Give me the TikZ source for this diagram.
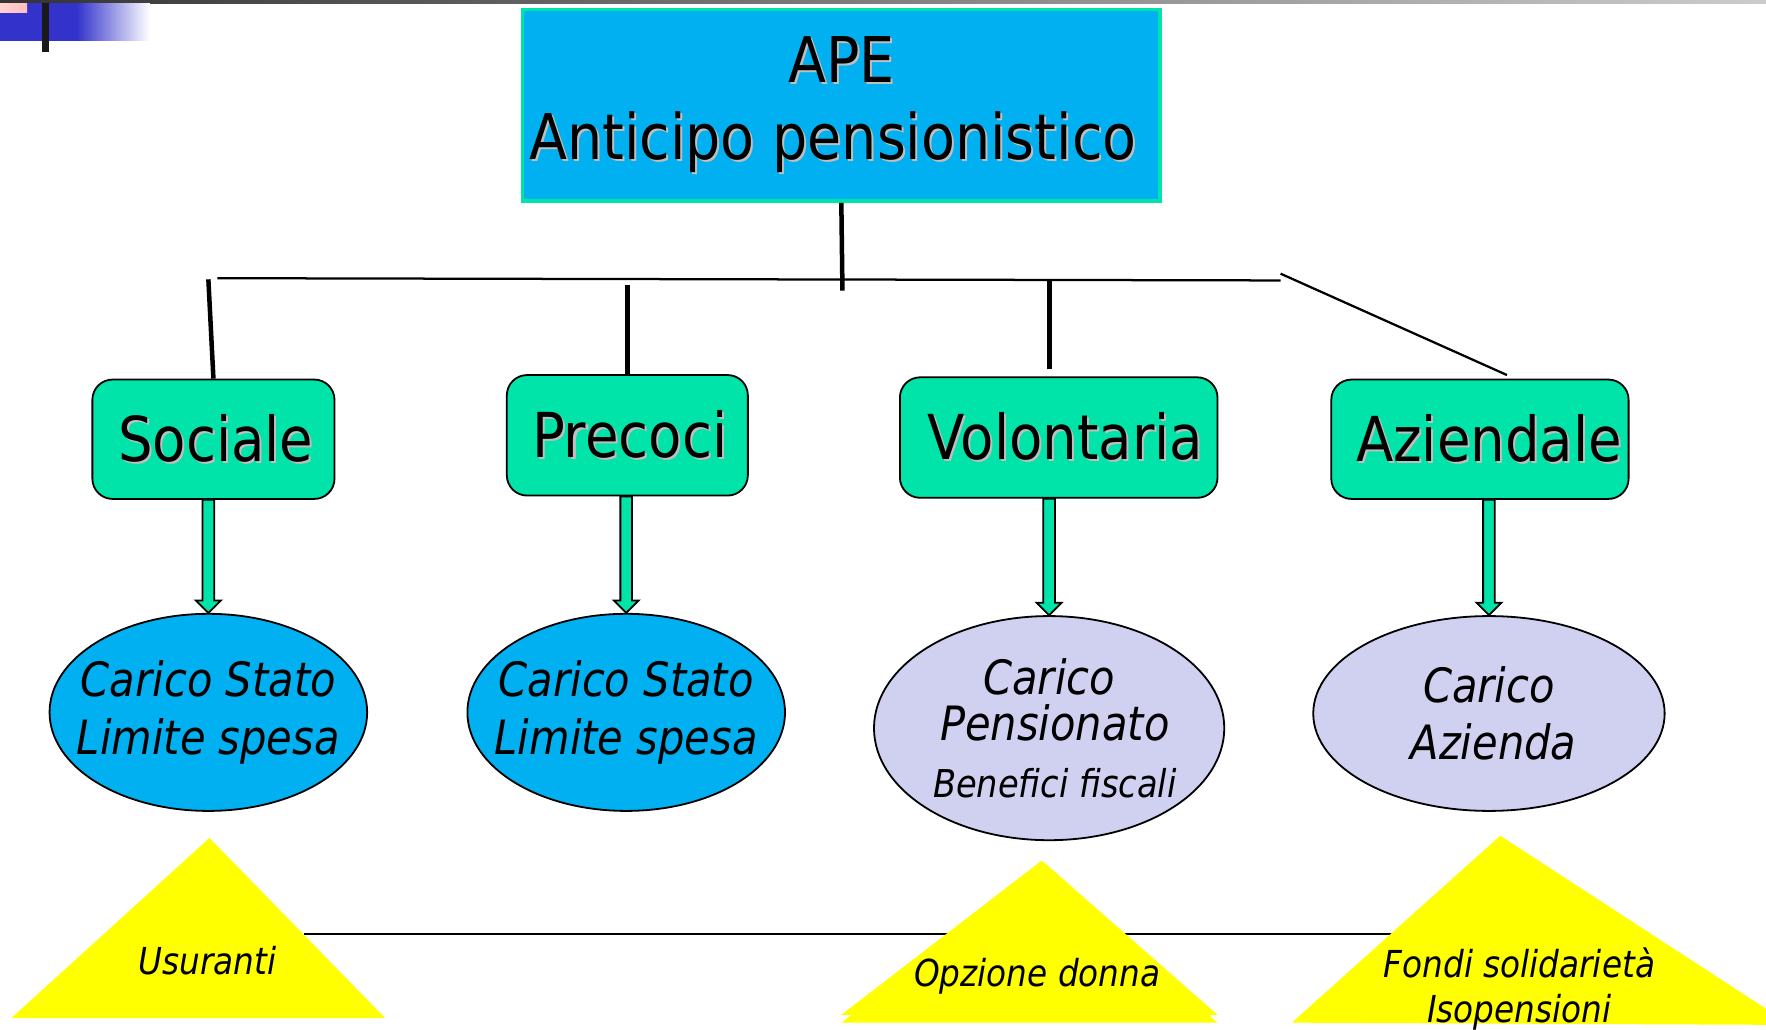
\documentclass[tikz,border=0pt]{standalone}
\usepackage{fontspec}
\setmainfont{DejaVu Sans}[FakeStretch=0.88]
\usetikzlibrary{shapes.geometric,calc}
\definecolor{apeblue}{RGB}{0,176,240}
\definecolor{tealbox}{RGB}{0,227,169}
\definecolor{lav}{RGB}{208,208,240}
\definecolor{topblue}{RGB}{51,51,204}
\definecolor{pinkish}{RGB}{255,190,190}
\definecolor{yel}{RGB}{255,255,0}
\newcommand\shtext[1]{\leavevmode\rlap{\kern0.9pt\raisebox{-0.9pt}{\textcolor{black!25}{#1}}}#1}
\newcommand\zl[1]{\makebox[0pt]{#1}}
\tikzset{
 catbox/.style={draw=black, line width=0.8pt, fill=tealbox, rounded corners=9pt, inner sep=0pt, font=\fontsize{27.5}{30}\selectfont},
 oval/.style={ellipse, draw=black, line width=0.8pt, inner sep=0pt, align=center, font=\fontsize{21}{25.5}\selectfont\itshape},
 link/.style={line width=2pt},
 barline/.style={line width=1pt},
 blockarrow/.style={draw=black, fill=tealbox, line width=0.8pt, line join=miter,
   to path={let \p1=(\tikztostart), \p2=(\tikztotarget) in
   (\x2-2.6pt,\y1) -- (\x2-2.6pt,\y2+5.5pt) -- (\x2-5.5pt,\y2+5.5pt) -- (\x2,\y2) -- (\x2+5.5pt,\y2+5.5pt) -- (\x2+2.6pt,\y2+5.5pt) -- (\x2+2.6pt,\y1) -- cycle}},
 trilabel/.style={font=\fontsize{16.5}{20}\selectfont\itshape, align=center, inner sep=0pt}
}
\begin{document}
\begin{tikzpicture}[x=0.5pt,y=-0.5pt]
\useasboundingbox (0,0) rectangle (1568,914);
\clip (0,0) rectangle (1568,914);
% top decoration
\shade[left color=black!80, right color=black!20] (0,0) rectangle (1568,2.7);
\fill[topblue] (0,2.7) rectangle (68,36);
\shade[left color=topblue, right color=white] (68,2.7) rectangle (133,36);
\shade[left color=pinkish!70, right color=pinkish] (0,2.7) rectangle (24,11.5);
\fill[black!90] (37.3,2.7) rectangle (43.5,46);

% title box
\node[draw=tealbox, line width=1.6pt, fill=apeblue, minimum width=283pt, minimum height=85pt, inner sep=0pt,
  align=center, font=\fontsize{28}{34}\selectfont] (ape) at (747,93.5)
  {\shtext{APE}\\\shtext{Anticipo pensionistico}\hspace*{7.5pt}};

% category boxes
\node[catbox, minimum width=107.5pt, minimum height=53pt] (sociale) at (189.5,390) {\hspace*{2pt}\shtext{Sociale}};
\node[catbox, minimum width=107pt, minimum height=53.5pt] (precoci) at (557,386.5) {\hspace*{2pt}\shtext{Precoci}};
\node[catbox, minimum width=141pt, minimum height=53.5pt] (volontaria) at (940,388.5) {\hspace*{6pt}\shtext{Volontaria}};
\node[catbox, minimum width=132pt, minimum height=53pt] (aziendale) at (1314,390) {\hspace*{8pt}\shtext{Aziendale}};

% tree connectors
\coordinate (apebar) at (748,258);
\coordinate (barL) at (193,247);
\coordinate (barR) at (1137,249);
\coordinate (socTop) at (185,248);
\coordinate (preTop) at (557,253);
\coordinate (volTop) at (932,249);
\coordinate (volEnd) at (932,328);
\coordinate (slantTop) at (1137,243);
\coordinate (slantEnd) at (1338,333);
\draw[link] (ape.south) -- (apebar);
\draw[barline] (barL) -- (barR);
\draw[link] (socTop) -- (sociale.north);
\draw[link] (preTop) -- (precoci.north);
\draw[link] (volTop) -- (volEnd);
\draw[barline] (slantTop) -- (slantEnd);

% ellipses
\node[oval, fill=apeblue, minimum width=141pt, minimum height=87.5pt] (e1) at (185,632.5) {\zl{Carico Stato}\\\zl{Limite spesa}};
\node[oval, fill=apeblue, minimum width=141pt, minimum height=87.5pt] (e2) at (556,632.5) {\zl{Carico Stato}\\\zl{Limite spesa}};
\node[oval, fill=lav, minimum width=155.5pt, minimum height=99.5pt] (e3) at (931.5,646.5)
  {\zl{Carico}\\[-5pt]\zl{\hspace*{5pt}Pensionato}\\[0pt]\zl{\fontsize{17}{20}\selectfont\hspace*{5pt}Benefici fiscali}};
\node[oval, fill=lav, minimum width=156pt, minimum height=86.5pt] (e4) at (1322,633.5) {\zl{Carico}\\\zl{\hspace*{4pt}Azienda}};

% block arrows
\draw[blockarrow] (sociale.south) to (e1.north);
\draw[blockarrow] (precoci.south) to (e2.north);
\draw[blockarrow] (volontaria.south) to (e3.north);
\draw[blockarrow] (aziendale.south) to (e4.north);

% bottom line and triangles
\coordinate (lineL) at (270,829);
\coordinate (lineR) at (1240,829);
\draw[barline] (lineL) -- (lineR);
\fill[yel] (186,744) -- (10,904) -- (342,904) -- cycle;
\fill[yel] (925,771) -- (747,908) -- (1081,908) -- cycle;
\fill[yel] (925,764) -- (747,901) -- (1081,901) -- cycle;
\fill[yel] (1332,742) -- (1147,908) -- (1590,910) -- cycle;
\node[trilabel] (usur) at (184,853) {Usuranti};
\node[trilabel] (opz) at (921,867) {Opzione donna};
\node[trilabel] (fondi) at (1349,878) {Fondi solidarietà\\Isopensioni};
\end{tikzpicture}
\end{document}
